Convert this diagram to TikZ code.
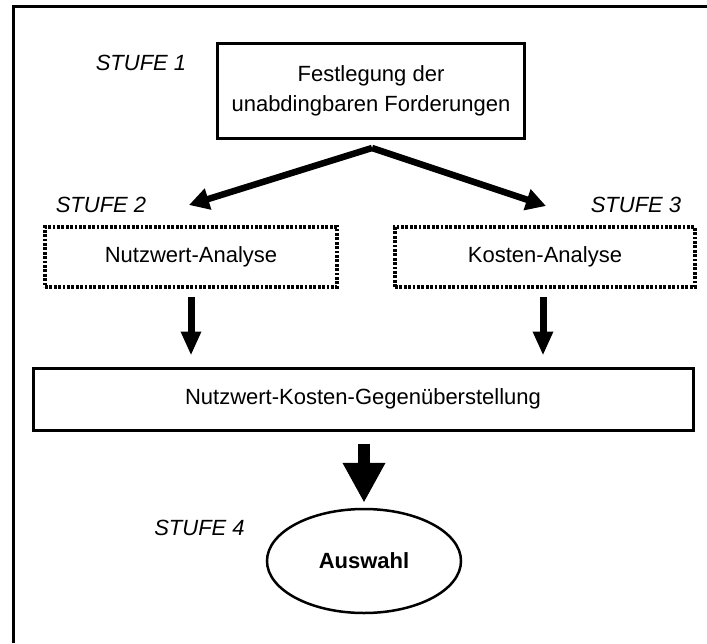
\documentclass[tikz,border=0pt]{standalone}
\usepackage{fontspec}
\setmainfont{Liberation Sans}
\usetikzlibrary{arrows.meta,shapes.geometric}

\begin{document}
\begin{tikzpicture}[x=1pt,y=-1pt,
  every node/.style={font=\fontsize{22}{30}\selectfont, inner sep=0pt},
  stufe/.style={font=\fontsize{22}{26}\selectfont\itshape},
  solidbox/.style={draw, line width=3pt, align=center},
  dotbox/.style={draw, line width=3.2pt, dash pattern=on 2.8pt off 1.6pt},
  splitarrow/.style={line width=6.5pt, -{Triangle[length=20pt,width=21pt]}},
  downarrow/.style={line width=7pt, -{Triangle[length=24pt,width=19pt]}},
  bigarrow/.style={line width=12pt, -{Triangle[length=40pt,width=40pt]}}
]
\useasboundingbox (0,0) rectangle (707,643);

% frame
\draw[line width=3pt] (13,643) -- (13,6) -- (707,6);

% stage 1
\node[stufe] (s1) at (141,63) {STUFE 1};
\node[solidbox, minimum width=307pt, minimum height=95pt] (req) at (371,90.5)
  {Festlegung der\\unabdingbaren Forderungen};

% branching arrows
\coordinate (split) at (372,148);
\coordinate (tipL) at (189,205);
\coordinate (tipR) at (546,206);
\draw[splitarrow] (split) -- (tipL);
\draw[splitarrow] (split) -- (tipR);

% stages 2 and 3
\node[stufe] (s2) at (101,205) {STUFE 2};
\node[stufe] (s3) at (636,205) {STUFE 3};
\node[dotbox, minimum width=292pt, minimum height=60pt] (nwa) at (191,257) {Nutzwert-Analyse};
\node[dotbox, minimum width=300pt, minimum height=60pt] (ka) at (545,257) {Kosten-Analyse};

% comparison
\node[solidbox, minimum width=660pt, minimum height=62pt] (nkg) at (363,399)
  {Nutzwert-Kosten-Gegenüberstellung};

\draw[downarrow, shorten <=8pt, shorten >=11pt] (nwa.south) -- (nwa.south |- nkg.north);
\draw[downarrow, shorten <=8pt, shorten >=11pt] (ka.south -| 543,0) -- (543,0 |- nkg.north);

% stage 4
\node[stufe] (s4) at (199.5,528) {STUFE 4};
\node[ellipse, draw, line width=2.5pt, minimum width=194pt, minimum height=104pt,
  font=\fontsize{22}{26}\selectfont\bfseries] (sel) at (364,561) {Auswahl};

\draw[bigarrow, shorten <=12pt, shorten >=5pt] (nkg.south -| sel.north) -- (sel.north);
\end{tikzpicture}
\end{document}
